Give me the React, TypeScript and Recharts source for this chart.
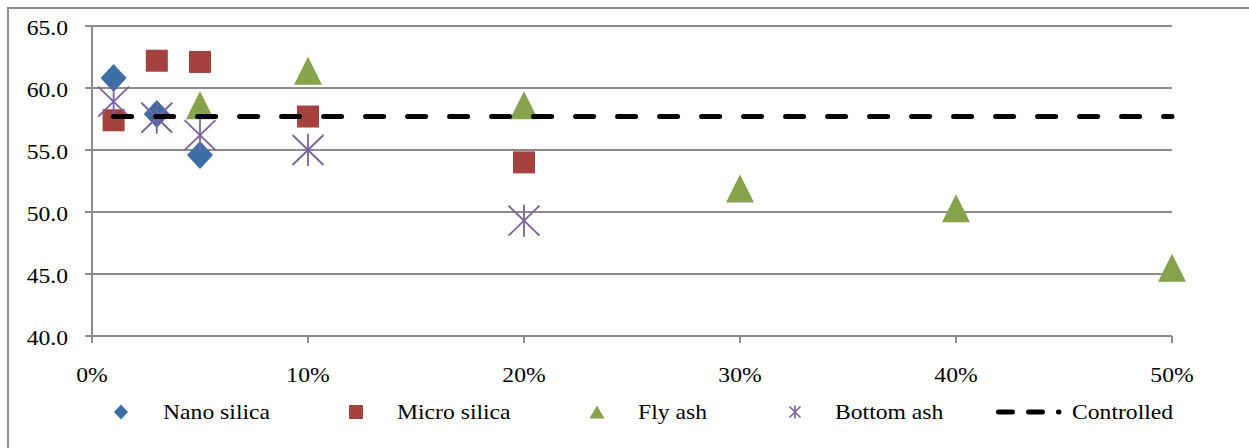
import React from 'react'
import { CartesianGrid, Scatter, ScatterChart, XAxis, YAxis } from 'recharts'

// replacement level (fraction of binder) and compressive strength readings
const nanoDosage = [0.01, 0.03, 0.05]
const nanoStrength = [60.8, 57.9, 54.6]

const microDosage = [0.01, 0.03, 0.05, 0.1, 0.2]
const microStrength = [57.4, 62.2, 62.1, 57.7, 54.0]

const flyDosage = [0.05, 0.1, 0.2, 0.3, 0.4, 0.5]
const flyStrength = [58.6, 61.4, 58.6, 51.9, 50.3, 45.5]

const bottomDosage = [0.01, 0.03, 0.05, 0.1, 0.2]
const bottomStrength = [58.9, 57.6, 56.2, 55.0, 49.3]

const controlDosage = [0.01, 0.03, 0.05, 0.1, 0.2, 0.3, 0.4, 0.5]
const controlStrength = [57.7, 57.7, 57.7, 57.7, 57.7, 57.7, 57.7, 57.7]

const xTicks = [0, 0.1, 0.2, 0.3, 0.4, 0.5]
const yTicks = [40, 45, 50, 55, 60, 65]

const legendLabels = ['Nano silica', 'Micro silica', 'Fly ash', 'Bottom ash', 'Controlled']

const toPoints = (xs: number[], ys: number[]) => xs.map((x, i) => ({ x, y: ys[i] }))

const BLUE = '#3a6ea5'
const RED = '#a3423f'
const GREEN = '#86a24b'
const PURPLE = '#7b609f'
const GRID = '#8c8c8c'
const FONT = 'Liberation Serif'
const FONT_SIZE = 22
const STRETCH = 1.075

const StretchText = ({ x, y, anchor, dy, children }: any) => (
    <text
        x={0}
        y={0}
        dy={dy}
        textAnchor={anchor}
        transform={`translate(${x},${y}) scale(${STRETCH},1)`}
        style={{ fontFamily: FONT, fontSize: FONT_SIZE, fill: '#000' }}
    >
        {children}
    </text>
)

// marker shapes, shared by the plot and the legend
const diamond = (cx: number, cy: number, w: number, h: number, fill: string) => (
    <polygon
        points={`${cx},${cy - h / 2} ${cx + w / 2},${cy} ${cx},${cy + h / 2} ${cx - w / 2},${cy}`}
        fill={fill}
    />
)
const square = (cx: number, cy: number, s: number, fill: string) => (
    <rect x={cx - s / 2} y={cy - s / 2} width={s} height={s} fill={fill} />
)
const triangle = (cx: number, cy: number, w: number, h: number, fill: string) => (
    <polygon
        points={`${cx},${cy - h / 2} ${cx + w / 2},${cy + h / 2} ${cx - w / 2},${cy + h / 2}`}
        fill={fill}
    />
)
const star = (cx: number, cy: number, w: number, h: number, stroke: string, sw: number) => (
    <g stroke={stroke} strokeWidth={sw}>
        <line x1={cx - w / 2} y1={cy - h / 2} x2={cx + w / 2} y2={cy + h / 2} />
        <line x1={cx + w / 2} y1={cy - h / 2} x2={cx - w / 2} y2={cy + h / 2} />
        <line x1={cx} y1={cy - h / 2 - 1} x2={cx} y2={cy + h / 2 + 1} />
    </g>
)

const YTick = ({ x, y, payload }: any) => (
    <StretchText x={x} y={y + 1} anchor="end" dy="0.355em">
        {Number(payload.value).toFixed(1)}
    </StretchText>
)

const XTick = ({ x, y, payload }: any) => (
    <StretchText x={x} y={y} anchor="middle" dy="0.71em">
        {`${Math.round(payload.value * 100)}%`}
    </StretchText>
)

const Legend = () => {
    const ly = 412
    const textX = [163, 397, 638, 835, 1072]
    return (
        <svg width={1249} height={448} style={{ position: 'absolute', left: 0, top: 0 }}>
            {diamond(121, ly, 14, 15, BLUE)}
            {square(356, ly, 14, RED)}
            {triangle(597, ly, 15, 13, GREEN)}
            {star(795, ly, 11, 11, PURPLE, 1.6)}
            <line
                x1={998.5}
                y1={ly}
                x2={1059}
                y2={ly}
                stroke="#000"
                strokeWidth={5}
                strokeDasharray="14 16"
                strokeLinecap="round"
            />
            {legendLabels.map((label, i) => (
                <StretchText key={label} x={textX[i]} y={419} anchor="start">
                    {label}
                </StretchText>
            ))}
        </svg>
    )
}

export default function App() {
    return (
        <div
            style={{
                position: 'absolute',
                left: 0,
                top: 0,
                width: 1249,
                height: 448,
                overflow: 'hidden',
                background: '#fff',
            }}
        >
            <div
                style={{
                    position: 'absolute',
                    left: 7,
                    top: 7,
                    width: 1300,
                    height: 500,
                    border: `2px solid ${GRID}`,
                }}
            />
            <div style={{ position: 'absolute', left: 0, top: 0 }}>
                <ScatterChart width={1249} height={448} margin={{ top: 26, right: 77, bottom: 52, left: 0 }}>
                    <CartesianGrid horizontal vertical={false} stroke={GRID} strokeWidth={2} />
                    <XAxis
                        type="number"
                        dataKey="x"
                        domain={[0, 0.5]}
                        ticks={xTicks}
                        height={60}
                        axisLine={{ stroke: GRID, strokeWidth: 2 }}
                        tickLine={{ stroke: GRID, strokeWidth: 2 }}
                        tickSize={7}
                        tickMargin={23}
                        tick={<XTick />}
                    />
                    <YAxis
                        type="number"
                        dataKey="y"
                        domain={[40, 65]}
                        ticks={yTicks}
                        width={92}
                        axisLine={{ stroke: GRID, strokeWidth: 2 }}
                        tickLine={{ stroke: GRID, strokeWidth: 2 }}
                        tickSize={7}
                        tickMargin={17}
                        tick={<YTick />}
                    />
                    <Scatter
                        name="Nano silica"
                        data={toPoints(nanoDosage, nanoStrength)}
                        isAnimationActive={false}
                        shape={(p: any) => diamond(p.cx, p.cy, 26, 28, BLUE)}
                    />
                    <Scatter
                        name="Micro silica"
                        data={toPoints(microDosage, microStrength)}
                        isAnimationActive={false}
                        shape={(p: any) => square(p.cx, p.cy, 22, RED)}
                    />
                    <Scatter
                        name="Fly ash"
                        data={toPoints(flyDosage, flyStrength)}
                        isAnimationActive={false}
                        shape={(p: any) => triangle(p.cx, p.cy, 28, 28, GREEN)}
                    />
                    <Scatter
                        name="Bottom ash"
                        data={toPoints(bottomDosage, bottomStrength)}
                        isAnimationActive={false}
                        shape={(p: any) => star(p.cx, p.cy, 31, 30, PURPLE, 1.8)}
                    />
                    <Scatter
                        name="Controlled"
                        data={toPoints(controlDosage, controlStrength)}
                        isAnimationActive={false}
                        line={{
                            stroke: '#000',
                            strokeWidth: 5,
                            strokeDasharray: '18 24',
                            strokeLinecap: 'round',
                        }}
                        lineType="joint"
                        shape={() => <g />}
                    />
                </ScatterChart>
            </div>
            <Legend />
        </div>
    )
}
